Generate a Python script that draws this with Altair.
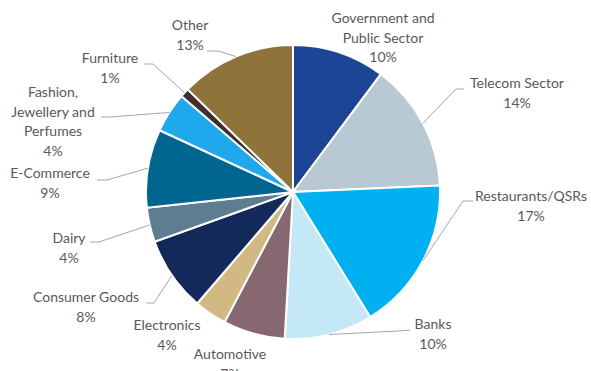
import math
import altair as alt
import pandas as pd

# ---- data ----
categories = ["Government and Public Sector", "Telecom Sector", "Restaurants/QSRs", "Banks",
              "Automotive", "Electronics", "Consumer Goods", "Dairy", "E-Commerce",
              "Fashion, Jewellery and Perfumes", "Furniture", "Other"]
label_lines = [["Government and", "Public Sector"], ["Telecom Sector"], ["Restaurants/QSRs"], ["Banks"],
               ["Automotive"], ["Electronics"], ["Consumer Goods"], ["Dairy"], ["E-Commerce"],
               ["Fashion,", "Jewellery and", "Perfumes"], ["Furniture"], ["Other"]]
shares = [10.2, 14.1, 16.9, 9.7, 6.8, 3.6, 8.2, 3.8, 8.6, 4.4, 1.0, 12.7]

# ---- styles / layout ----
colors = ["#1D4596", "#B8C9D3", "#00B0F0", "#C5E8F7", "#876871", "#D2B882",
          "#13295A", "#5E7D90", "#00668F", "#1FA9EC", "#3F2D31", "#8E733A"]
CX, CY, R = 293, 192, 147
LINE_H = 19.7
# centre of the first line of each label
label_xy = [(383, 19), (517, 84), (531, 197), (433, 325), (230, 355), (167, 326),
            (86, 298), (69, 239), (50, 174), (53, 93), (110, 59), (190, 26)]
# leader line bend and end points (None = no leader)
leaders = [None, [(456, 89), (464, 89)], [(463, 201), (473, 201)], [(398, 331), (410, 330)],
           None, None, [(154, 303), (146, 303)], [(99, 242), (90, 242)],
           [(107, 180), (97, 180)], [(110, 117), (101, 117)], [(153, 64), (144, 64)],
           [(218, 51), (207, 51)]]

total = sum(shares)
pie_df = pd.DataFrame({"category": categories, "share": shares, "idx": list(range(len(shares)))})

text_rows, line_rows = [], []
cum = 0.0
for i, (cat, s) in enumerate(zip(categories, shares)):
    mid = (cum + s / 2) / total * 2 * math.pi
    cum += s
    lx, ly = label_xy[i]
    lines = label_lines[i] + [f"{round(s)}%"]
    for j, t in enumerate(lines):
        text_rows.append({"t": t, "x": lx, "y": ly + j * LINE_H})
    if leaders[i] is not None:
        pts = [(CX + R * math.sin(mid), CY - R * math.cos(mid))] + leaders[i]
        for k, (px, py) in enumerate(pts):
            line_rows.append({"cat": cat, "k": k, "x": px, "y": py})

text_df = pd.DataFrame(text_rows)
line_df = pd.DataFrame(line_rows)

pie = alt.Chart(pie_df).mark_arc(radius=R, stroke="white", strokeWidth=2).encode(
    theta=alt.Theta("share:Q", stack=True),
    order=alt.Order("idx:Q"),
    color=alt.Color("category:N", scale=alt.Scale(domain=categories, range=colors), legend=None),
    x=alt.value(CX),
    y=alt.value(CY),
)

leader = alt.Chart(line_df).mark_line(color="#A6A6A6", strokeWidth=1).encode(
    x=alt.X("x:Q", scale=None),
    y=alt.Y("y:Q", scale=None),
    detail="cat:N",
    order="k:Q",
)

labels = alt.Chart(text_df).mark_text(font="Lato", fontSize=14, color="#595959",
                                      align="center", baseline="middle").encode(
    x=alt.X("x:Q", scale=None),
    y=alt.Y("y:Q", scale=None),
    text="t:N",
)

chart = alt.layer(pie, leader, labels).properties(
    width=591, height=371, autosize=alt.AutoSizeParams(type="none"), padding=0
).configure_view(stroke=None)

chart.save("out.html", embed_options={"renderer": "svg", "actions": False})
